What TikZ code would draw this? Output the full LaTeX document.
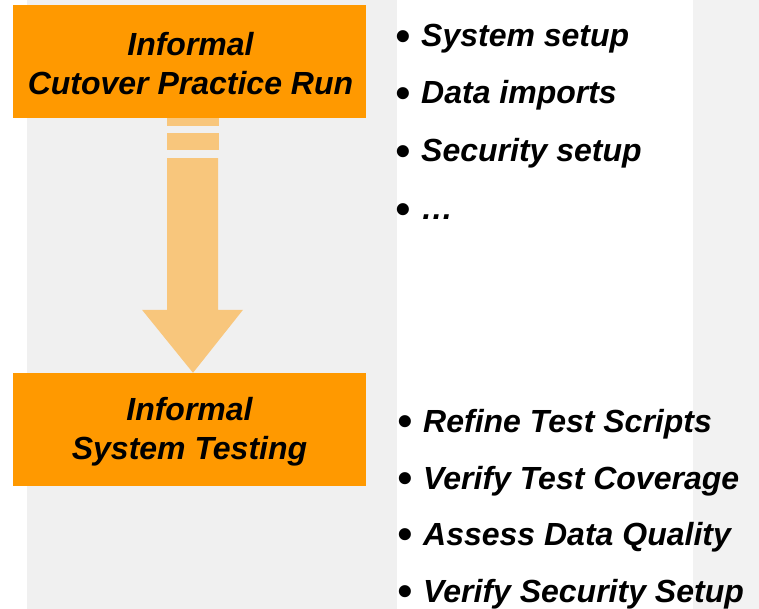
\documentclass[tikz,border=0pt]{standalone}
\usepackage{fontspec}
\setmainfont{Liberation Sans}
\usetikzlibrary{calc}
% enlarged list bullet followed by a fixed indent
\newcommand{\listmark}{\makebox[25pt][l]{\hspace*{-1pt}\smash{\raisebox{-3.5pt}{\fontsize{42}{42}\selectfont\textbullet}}}}
\begin{document}
\begin{tikzpicture}[x=1pt,y=-1pt,
  phase/.style={fill=phaseorange, draw=none, minimum width=353pt, minimum height=113pt, inner sep=0pt},
  phasetext/.style={inner sep=0pt, align=center, font=\fontsize{32}{39}\selectfont\bfseries\itshape},
  item/.style={anchor=base west, inner sep=0pt, font=\fontsize{32}{38}\selectfont\bfseries\itshape},
  flow/.style={fill=arroworange, draw=none}]
\definecolor{phaseorange}{HTML}{FF9900}
\definecolor{arroworange}{HTML}{F8C67C}
\definecolor{panelgray}{HTML}{F0F0F0}
\definecolor{sidegray}{HTML}{F2F2F2}
\useasboundingbox (0,0) rectangle (759,609);
% background panels
\fill[white] (0,0) rectangle (759,609);
\fill[panelgray] (27,0) rectangle (397,609);
\fill[sidegray] (693,0) rectangle (759,609);
% phase boxes
\node[phase] (cutover) at (189.5,61.5) {};
\node[phasetext] (cutoverlabel) at ($(cutover.center)+(1,2.5)$) {Informal\\Cutover Practice Run};
\node[phase] (testing) at (189.5,429.5) {};
\node[phasetext] (testinglabel) at ($(testing.center)+(0,2.5)$) {Informal\\System Testing};
% broken-shaft arrow between the phases
\path (cutover.south) ++(3.5,0) coordinate (astart);
\path (testing.north) ++(3.5,0) coordinate (atip);
\fill[flow] ($(astart)+(-26,0)$) rectangle ($(astart)+(26,8)$);
\fill[flow] ($(astart)+(-26,15)$) rectangle ($(astart)+(26,32)$);
\fill[flow] ($(astart)+(-26,40)$) -- ($(astart)+(25,40)$) -- ($(atip)+(25,-63)$)
  -- ($(atip)+(50,-63)$) -- (atip) -- ($(atip)+(-51,-63)$) -- ($(atip)+(-26,-63)$) -- cycle;
% task lists
\node[item] (s1) at (396,47) {\listmark System setup};
\node[item] (s2) at (396,104) {\listmark Data imports};
\node[item] (s3) at (396,162) {\listmark Security setup};
\node[item] (s4) at (396,220) {\listmark …};
\node[item] (t1) at (398,432) {\listmark Refine Test Scripts};
\node[item] (t2) at (398,489) {\listmark Verify Test Coverage};
\node[item] (t3) at (398,545) {\listmark Assess Data Quality};
\node[item] (t4) at (398,602) {\listmark Verify Security Setup};
\end{tikzpicture}
\end{document}
